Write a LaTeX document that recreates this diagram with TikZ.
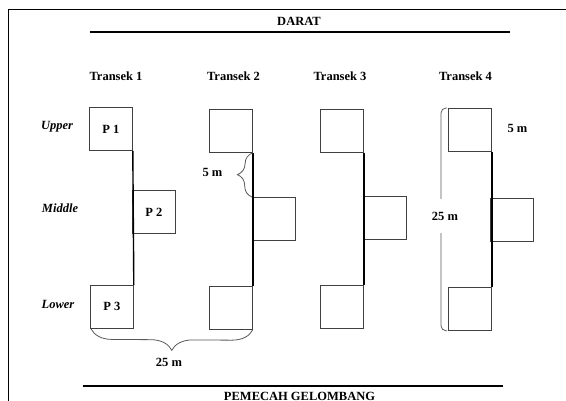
\documentclass[tikz,border=0pt]{standalone}
\usepackage{fontspec}
\setmainfont{Liberation Serif}
\usetikzlibrary{decorations.pathreplacing,calc}
\begin{document}
\begin{tikzpicture}[x=1pt,y=-1pt,
  lbl/.style={font=\fontsize{12.5}{14}\selectfont\bfseries, inner sep=0pt},
  side/.style={font=\fontsize{12.5}{14}\selectfont\bfseries\itshape, inner sep=0pt},
  quad/.style={draw=black!75, line width=0.8pt, minimum width=43pt, minimum height=43pt, inner sep=0pt, anchor=north west, font=\fontsize{12.5}{14}\selectfont\bfseries},
  link/.style={draw=black, line width=1.4pt},
  shore/.style={draw=black, line width=2.2pt},
  frame/.style={draw=black, line width=0.9pt},
  brc/.style={draw=black!65, line width=0.8pt}]
\useasboundingbox (0,0) rectangle (566,401);
% frame
\coordinate (fa) at (8,401);
\coordinate (fb) at (8,9);
\coordinate (fc) at (566,9);
\draw[frame] (fa) -- (fb) -- (fc);
% shore lines
\coordinate (d1) at (89.5,32);
\coordinate (d2) at (510,32);
\draw[shore] (d1) -- (d2);
\node[lbl] (darat) at (299,21) {DARAT};
\coordinate (g1) at (83,386);
\coordinate (g2) at (503,386);
\draw[shore] (g1) -- (g2);
\node[lbl] (pemecah) at (299.5,396) {PEMECAH GELOMBANG};
% headers
\node[lbl] (h1) at (116,76) {Transek 1};
\node[lbl] (h2) at (233.5,76) {Transek 2};
\node[lbl] (h3) at (340,76) {Transek 3};
\node[lbl] (h4) at (465.5,76) {Transek 4};
\node[side] (up) at (57,127) {Upper};
\node[side] (mid) at (60,208) {Middle};
\node[side] (low) at (58,304) {Lower};
% transek 1
\node[quad] (t1u) at (89,107) {P 1};
\node[quad] (t1m) at (132,190) {P 2};
\node[quad] (t1l) at (90,285) {P 3};
\draw[link] (t1u.south east) -- (t1l.north east);
% transek 2
\node[quad] (t2u) at (209,109) {};
\node[quad] (t2m) at (252,197) {};
\node[quad] (t2l) at (209,286) {};
\draw[link] (t2u.south east) -- (t2l.north east);
% transek 3
\node[quad] (t3u) at (320,109) {};
\node[quad] (t3m) at (363,196) {};
\node[quad] (t3l) at (320,285) {};
\draw[link] (t3u.south east) -- (t3l.north east);
% transek 4
\node[quad] (t4u) at (448,108) {};
\node[quad] (t4m) at (490,198) {};
\node[quad] (t4l) at (448,287) {};
\draw[link] (t4u.south east) -- (t4l.north east);
% braces
\draw[brc, decorate, decoration={brace, amplitude=15pt}] (t2m.north west) -- (t2u.south east);
\node[lbl] (b5a) at (212.5,172) {5 m};
\draw[brc, decorate, decoration={brace, mirror, amplitude=21pt}] ([xshift=1pt]t1l.south west) -- (t2l.south east);
\node[lbl] (b25a) at (169,362) {25 m};
\draw[brc, rounded corners=5pt] ([xshift=-1pt]t4u.north west) -- ++(-6,0) |- ([xshift=-1pt]t4l.south west);
\node[lbl, fill=white, minimum height=34pt, inner xsep=1pt] (b25b) at (445,216) {25 m};
\node[lbl] (b5b) at (517.5,128) {5 m};
\end{tikzpicture}
\end{document}
